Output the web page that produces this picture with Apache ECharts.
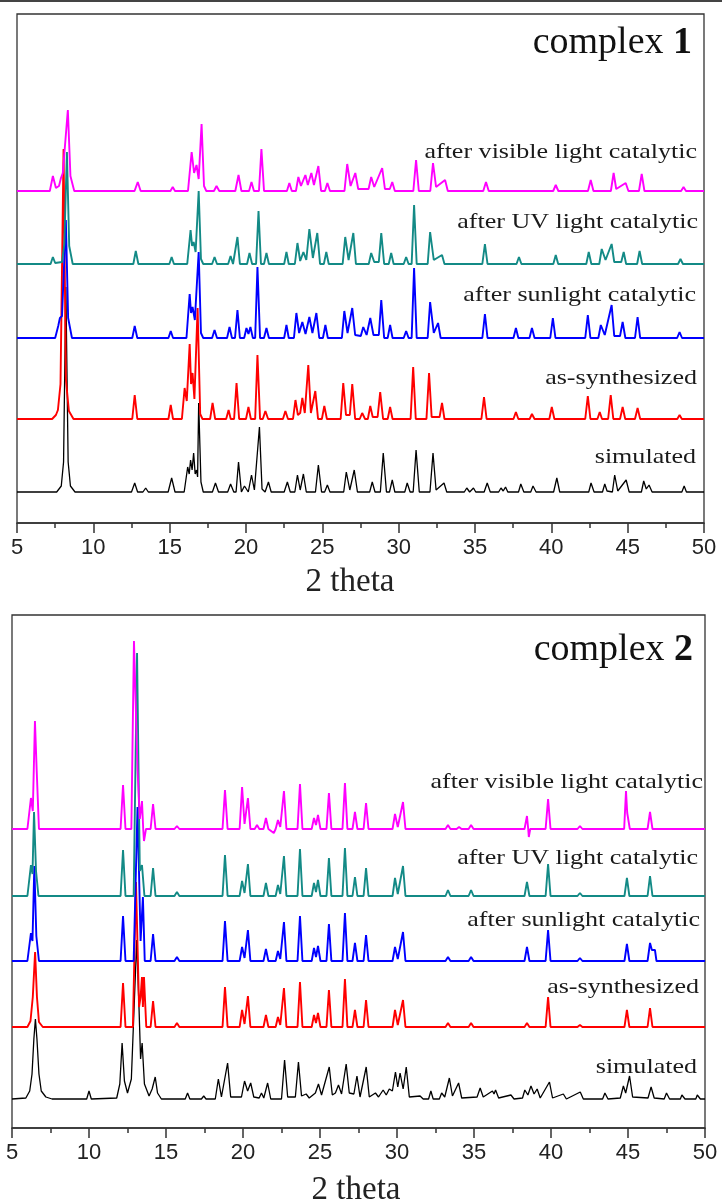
<!DOCTYPE html>
<html><head><meta charset="utf-8">
<script src="https://cdn.jsdelivr.net/npm/echarts@6/dist/echarts.min.js"></script>
<style>html,body{margin:0;padding:0;background:#fff}#c{width:722px;height:1202px}</style>
</head><body><div id="c"></div>
<script>
// ---------- DATA (2 theta, intensity above own baseline, arbitrary units) ----------
const seriesNames = ['simulated','as-synthesized','after sunlight catalytic','after UV light catalytic','after visible light catalytic'];
const panelTitles = ['1','2'];
const xTicks = [5,10,15,20,25,30,35,40,45,50];
// stacking offsets of each pattern (same order as seriesNames)
const offsets1 = [31,104,185,259,332];
const offsets2 = [29,101,167,232,299];

const p1_sim = [[5,0],[7.6,0],[7.9,6],[8.05,30],[8.2,205],[8.35,30],[8.5,6],[8.8,0],[12.5,0],[12.71,9],[12.9,0],[13.25,0],[13.43,4],[13.6,0],[14.9,0],[15.13,14],[15.35,0],[15.95,0],[16.18,25],[16.28,18],[16.37,32],[16.47,22],[16.57,39],[16.67,18],[16.76,22],[16.83,15],[16.9,89],[17.05,10],[17.2,0],[17.8,0],[18.0,9],[18.2,0],[18.8,0],[18.99,8],[19.2,0],[19.35,0],[19.51,30],[19.7,0],[19.9,6],[20.15,0],[20.36,17],[20.55,2],[20.88,65],[21.05,3],[21.25,0],[21.47,10],[21.65,0],[22.5,0],[22.71,10],[22.9,0],[23.2,0],[23.37,17],[23.55,2],[23.76,18],[23.95,0],[24.55,0],[24.74,27],[24.95,0],[25.15,0],[25.33,7],[25.5,0],[26.4,0],[26.57,20],[26.8,2],[27.09,22],[27.3,0],[28.1,0],[28.27,10],[28.45,0],[28.8,0],[28.99,39],[29.2,0],[29.4,0],[29.58,12],[29.75,0],[30.4,0],[30.56,9],[30.75,0],[30.95,0],[31.14,42],[31.35,0],[32.05,0],[32.25,39],[32.45,2],[32.97,9],[33.15,0],[34.3,0],[34.46,4],[34.65,0],[34.9,4],[35.05,0],[35.6,0],[35.8,9],[36.0,0],[36.55,0],[36.7,4],[36.85,1],[37.0,5],[37.15,0],[37.85,0],[38.0,8],[38.2,0],[38.65,0],[38.8,6],[39.0,0],[40.15,0],[40.36,14],[40.55,0],[42.45,0],[42.6,9],[42.8,0],[43.35,0],[43.5,8],[43.65,1],[44.0,0],[44.15,17],[44.35,1],[44.9,12],[45.1,0],[45.9,0],[46.05,11],[46.22,3],[46.4,7],[46.6,0],[48.55,0],[48.7,6],[48.85,0],[50,0]];
const p1_as = [[5,0],[7.3,0],[7.55,4],[7.68,9],[7.85,35],[8.05,270],[8.2,40],[8.4,8],[8.7,0],[12.55,0],[12.71,24],[12.88,0],[14.92,0],[15.07,14],[15.22,0],[15.8,0],[15.98,31],[16.12,18],[16.31,75],[16.4,35],[16.5,46],[16.62,20],[16.83,111],[17.0,5],[17.15,0],[17.65,0],[17.81,16],[17.98,0],[18.7,0],[18.86,9],[19.0,0],[19.22,0],[19.38,36],[19.55,0],[20.0,0],[20.16,12],[20.32,0],[20.6,0],[20.75,64],[20.92,0],[21.1,0],[21.27,8],[21.45,0],[22.42,0],[22.58,8],[22.75,0],[23.08,0],[23.24,19],[23.4,4],[23.55,6],[23.69,21],[23.85,6],[24.08,54],[24.25,6],[24.54,28],[24.72,0],[24.97,0],[25.13,13],[25.3,0],[26.2,0],[26.37,36],[26.55,4],[26.8,4],[26.96,35],[27.15,0],[27.45,0],[27.61,6],[27.8,0],[27.98,0],[28.14,13],[28.3,2],[28.62,2],[28.79,27],[28.98,0],[29.28,0],[29.44,12],[29.6,0],[30.78,0],[30.95,52],[31.12,0],[31.82,0],[31.99,46],[32.16,2],[32.68,2],[32.84,16],[33.0,0],[35.42,0],[35.59,22],[35.76,0],[37.52,0],[37.68,7],[37.84,0],[38.58,0],[38.73,5],[38.9,0],[39.87,0],[40.03,12],[40.2,0],[42.22,0],[42.39,23],[42.56,0],[43.02,0],[43.17,7],[43.32,0],[43.72,0],[43.89,24],[44.06,0],[44.5,0],[44.67,12],[44.84,0],[45.48,0],[45.65,11],[45.82,0],[48.25,0],[48.4,4],[48.55,0],[50,0]];
const p1_sun = [[5,0],[7.5,0],[7.7,12],[7.81,20],[7.95,22],[8.2,118],[8.35,20],[8.6,0],[12.55,0],[12.71,12],[12.88,0],[14.92,0],[15.07,7],[15.22,0],[16.1,0],[16.31,44],[16.4,25],[16.5,31],[16.65,18],[16.9,86],[17.05,5],[17.2,0],[17.78,0],[17.94,8],[18.1,0],[18.76,0],[18.92,11],[19.08,0],[19.28,0],[19.44,28],[19.6,0],[19.88,0],[20.03,10],[20.16,4],[20.29,11],[20.45,0],[20.6,0],[20.75,71],[20.92,0],[21.18,0],[21.34,10],[21.5,0],[22.5,0],[22.65,13],[22.8,0],[23.14,0],[23.3,25],[23.48,5],[23.69,16],[23.9,4],[24.15,21],[24.35,5],[24.61,25],[24.8,0],[25.04,0],[25.2,13],[25.36,0],[26.28,0],[26.44,27],[26.65,5],[26.96,30],[27.15,3],[27.52,2],[27.68,11],[27.9,3],[28.14,20],[28.35,3],[28.7,3],[28.86,38],[29.05,0],[29.28,0],[29.44,13],[29.6,0],[30.33,0],[30.49,7],[30.65,0],[30.85,0],[31.01,70],[31.18,0],[31.9,0],[32.06,36],[32.3,5],[32.58,15],[32.75,0],[35.48,0],[35.65,24],[35.82,0],[37.52,0],[37.68,10],[37.84,0],[38.57,0],[38.73,10],[38.9,0],[39.93,0],[40.1,20],[40.27,0],[42.22,0],[42.39,23],[42.56,0],[43.08,0],[43.24,13],[43.5,3],[43.95,33],[44.12,2],[44.5,2],[44.67,16],[44.85,0],[45.48,0],[45.65,21],[45.82,0],[48.24,0],[48.4,6],[48.56,0],[50,0]];
const p1_uv = [[5,0],[7.2,0],[7.35,7],[7.5,1],[7.95,2],[8.1,20],[8.27,112],[8.42,18],[8.65,0],[12.62,0],[12.78,13],[12.95,0],[14.98,0],[15.13,7],[15.28,0],[16.15,0],[16.37,34],[16.47,18],[16.57,22],[16.7,12],[16.9,73],[17.05,5],[17.2,0],[17.78,0],[17.94,7],[18.1,0],[18.83,0],[18.99,8],[19.15,0],[19.28,0],[19.44,27],[19.6,0],[20.07,0],[20.23,11],[20.4,0],[20.66,0],[20.82,53],[20.98,0],[21.18,0],[21.34,11],[21.5,0],[22.5,0],[22.65,12],[22.8,0],[23.2,0],[23.37,21],[23.55,3],[23.76,12],[23.95,4],[24.15,35],[24.38,6],[24.67,31],[24.85,0],[25.1,0],[25.26,12],[25.42,0],[26.33,0],[26.5,27],[26.72,4],[27.03,31],[27.2,0],[28.04,0],[28.2,11],[28.4,2],[28.7,2],[28.86,31],[29.05,0],[29.35,0],[29.51,11],[29.67,0],[30.33,0],[30.49,7],[30.65,0],[30.85,0],[31.01,59],[31.18,0],[31.9,0],[32.06,32],[32.3,4],[32.84,9],[33.0,0],[35.48,0],[35.65,20],[35.82,0],[37.72,0],[37.88,7],[38.04,0],[40.13,0],[40.29,9],[40.45,0],[42.29,0],[42.45,12],[42.62,0],[43.14,0],[43.3,15],[43.55,4],[43.95,20],[44.12,2],[44.58,2],[44.74,12],[44.9,0],[45.62,0],[45.78,13],[45.95,0],[48.3,0],[48.46,5],[48.62,0],[50,0]];
const p1_vis = [[5,0],[7.15,0],[7.35,15],[7.55,3],[7.75,5],[7.88,13],[8.0,18],[8.33,81],[8.5,15],[8.75,0],[12.7,0],[12.91,9],[13.1,0],[15.05,0],[15.2,4],[15.35,0],[16.2,0],[16.44,39],[16.6,18],[16.76,26],[16.9,12],[17.09,67],[17.25,5],[17.4,0],[17.9,0],[18.07,5],[18.25,0],[19.3,0],[19.51,16],[19.7,0],[20.2,0],[20.36,9],[20.52,0],[20.85,0],[21.01,42],[21.18,0],[22.68,0],[22.84,8],[23.0,0],[23.27,0],[23.43,14],[23.6,5],[23.89,16],[24.05,6],[24.28,18],[24.45,6],[24.74,25],[24.92,0],[25.17,0],[25.33,8],[25.5,0],[26.45,0],[26.63,27],[26.85,5],[27.16,18],[27.35,2],[28.03,2],[28.2,14],[28.4,4],[28.92,23],[29.1,2],[29.42,2],[29.58,9],[29.75,0],[30.96,0],[31.14,31],[31.32,0],[32.07,0],[32.25,28],[32.45,4],[33.04,11],[33.22,0],[35.54,0],[35.72,9],[35.9,0],[40.12,0],[40.29,6],[40.46,0],[42.4,0],[42.58,11],[42.76,0],[43.9,0],[44.08,18],[44.25,2],[44.87,8],[45.05,0],[45.74,0],[45.92,17],[46.1,0],[48.5,0],[48.66,4],[48.82,0],[50,0]];

const p2_sim = [[5,0],[5.9,1],[6.15,8],[6.3,25],[6.42,60],[6.52,80],[6.62,60],[6.75,25],[6.9,8],[7.2,2],[7.6,0],[9.85,0],[10.0,8],[10.15,0],[11.8,1],[12.0,15],[12.15,56],[12.3,18],[12.5,6],[12.75,20],[12.95,100],[13.1,159],[13.25,90],[13.35,40],[13.45,56],[13.6,15],[13.9,3],[14.1,10],[14.3,22],[14.45,6],[14.7,0],[16.25,0],[16.4,6],[16.55,0],[17.3,0],[17.45,3],[17.6,0],[18.2,0],[18.4,20],[18.6,2],[19.0,36],[19.2,2],[19.9,2],[20.1,18],[20.3,8],[20.5,16],[20.7,2],[21.05,1],[21.2,6],[21.35,1],[21.6,16],[21.8,0],[22.5,0],[22.7,39],[22.9,2],[23.4,2],[23.6,37],[23.8,3],[24.1,5],[24.3,1],[24.7,6],[24.9,15],[25.1,4],[25.6,32],[25.8,4],[26.0,6],[26.2,14],[26.4,5],[26.7,35],[26.9,6],[27.2,5],[27.4,23],[27.6,2],[28.0,32],[28.2,2],[28.6,6],[28.8,2],[29.1,9],[29.3,4],[29.5,10],[29.7,8],[29.9,27],[30.05,12],[30.2,26],[30.4,10],[30.6,32],[30.8,2],[31.5,3],[31.7,0],[32.05,0],[32.2,8],[32.35,0],[32.75,0],[32.9,6],[33.1,2],[33.4,21],[33.6,3],[34.0,16],[34.2,1],[35.2,2],[35.4,11],[35.6,2],[36.2,8],[36.3,5],[36.4,9],[36.6,1],[37.4,4],[37.6,0],[38.15,1],[38.3,9],[38.5,4],[38.7,13],[38.9,5],[39.1,10],[39.3,1],[39.9,17],[40.1,1],[40.8,5],[41.0,0],[41.9,7],[42.1,0],[43.35,0],[43.5,6],[43.7,0],[44.5,1],[44.7,13],[44.85,6],[45.1,23],[45.3,2],[46.3,1],[46.5,12],[46.7,1],[47.35,0],[47.5,6],[47.7,0],[48.4,0],[48.5,4],[48.7,0],[49.4,0],[49.5,4],[49.7,0],[50,0]];
const p2_as = [[5,0],[6.0,0],[6.2,6],[6.35,30],[6.5,75],[6.62,30],[6.75,5],[7.0,0],[12.05,0],[12.21,44],[12.37,0],[12.85,0],[13.05,145],[13.25,20],[13.35,30],[13.44,50],[13.5,20],[13.57,50],[13.72,0],[14.0,0],[14.16,26],[14.32,0],[15.55,0],[15.71,4],[15.87,0],[18.67,0],[18.83,40],[19.0,0],[19.78,0],[19.94,17],[20.1,3],[20.32,31],[20.48,0],[21.33,0],[21.49,12],[21.65,0],[22.12,0],[22.27,10],[22.42,2],[22.66,39],[22.82,0],[23.54,0],[23.7,45],[23.86,0],[24.46,0],[24.61,12],[24.74,4],[24.87,14],[25.03,0],[25.42,0],[25.58,37],[25.74,0],[26.46,0],[26.62,48],[26.78,0],[27.11,0],[27.27,17],[27.43,0],[27.83,0],[27.99,27],[28.15,0],[29.71,0],[29.87,17],[30.05,2],[30.39,27],[30.55,0],[33.15,0],[33.31,4],[33.47,0],[34.65,0],[34.81,4],[34.97,0],[38.28,0],[38.44,4],[38.6,0],[39.65,0],[39.81,30],[39.97,0],[41.72,0],[41.88,2],[42.04,0],[44.77,0],[44.93,17],[45.09,0],[46.27,0],[46.43,19],[46.59,0],[50,0]];
const p2_sun = [[5,0],[6.0,0],[6.23,28],[6.33,20],[6.45,95],[6.58,25],[6.75,0],[12.05,0],[12.21,45],[12.37,0],[12.9,0],[13.15,154],[13.35,20],[13.5,64],[13.62,0],[14.0,0],[14.16,27],[14.32,0],[15.55,0],[15.71,4],[15.87,0],[18.67,0],[18.83,40],[19.0,0],[19.78,0],[19.94,14],[20.1,3],[20.32,31],[20.48,0],[21.33,0],[21.49,12],[21.65,0],[22.12,0],[22.27,10],[22.42,2],[22.66,39],[22.82,0],[23.54,0],[23.7,45],[23.86,0],[24.46,0],[24.61,13],[24.74,4],[24.87,15],[25.03,0],[25.42,0],[25.58,37],[25.74,0],[26.46,0],[26.62,48],[26.78,0],[27.11,0],[27.27,18],[27.43,0],[27.83,0],[27.99,26],[28.15,0],[29.71,0],[29.87,14],[30.05,2],[30.39,29],[30.55,0],[33.15,0],[33.31,4],[33.47,0],[34.65,0],[34.81,4],[34.97,0],[38.28,0],[38.44,14],[38.6,0],[39.65,0],[39.81,31],[39.97,0],[41.72,0],[41.88,3],[42.04,0],[44.77,0],[44.93,17],[45.09,0],[46.27,0],[46.43,18],[46.55,11],[46.75,11],[46.85,0],[50,0]];
const p2_uv = [[5,0],[6.0,0],[6.23,31],[6.33,22],[6.43,84],[6.56,25],[6.72,0],[12.05,0],[12.21,46],[12.37,0],[12.9,0],[13.12,243],[13.3,25],[13.44,31],[13.6,0],[14.0,0],[14.16,28],[14.32,0],[15.55,0],[15.71,4],[15.87,0],[18.67,0],[18.83,41],[19.0,0],[19.78,0],[19.94,15],[20.1,3],[20.32,32],[20.48,0],[21.33,0],[21.49,13],[21.65,0],[22.12,0],[22.27,11],[22.42,2],[22.66,40],[22.82,0],[23.54,0],[23.7,47],[23.86,0],[24.46,0],[24.61,13],[24.74,4],[24.87,16],[25.03,0],[25.42,0],[25.58,38],[25.74,0],[26.46,0],[26.62,48],[26.78,0],[27.11,0],[27.27,19],[27.43,0],[27.83,0],[27.99,28],[28.15,0],[29.71,0],[29.87,18],[30.05,2],[30.39,30],[30.55,0],[33.15,0],[33.31,6],[33.47,0],[34.65,0],[34.81,6],[34.97,0],[38.28,0],[38.44,14],[38.6,0],[39.65,0],[39.81,32],[39.97,0],[41.72,0],[41.88,3],[42.04,0],[44.77,0],[44.93,18],[45.09,0],[46.27,0],[46.43,20],[46.59,0],[50,0]];
const p2_vis = [[5,0],[6.0,0],[6.23,31],[6.35,18],[6.49,108],[6.6,60],[6.75,0],[12.05,0],[12.21,44],[12.37,0],[12.75,0],[12.92,188],[13.15,60],[13.3,10],[13.44,28],[13.52,0],[13.57,-12],[13.7,0],[14.0,0],[14.16,25],[14.32,0],[15.55,0],[15.71,3],[15.87,0],[18.67,0],[18.83,39],[19.0,0],[19.78,0],[19.94,42],[20.1,5],[20.32,31],[20.48,0],[20.76,0],[20.91,4],[21.06,0],[21.33,0],[21.49,11],[21.65,0],[22.0,-4],[22.12,0],[22.27,9],[22.42,2],[22.66,38],[22.82,0],[23.54,0],[23.7,45],[23.86,0],[24.46,0],[24.61,11],[24.74,4],[24.87,14],[25.03,0],[25.42,0],[25.58,36],[25.74,0],[26.46,0],[26.62,46],[26.78,0],[27.11,0],[27.27,17],[27.43,0],[27.83,0],[27.99,26],[28.15,0],[29.71,0],[29.87,15],[30.05,2],[30.39,27],[30.55,0],[33.15,0],[33.31,4],[33.47,0],[33.87,0],[34.03,2],[34.19,0],[34.65,0],[34.81,4],[34.97,0],[38.28,0],[38.44,13],[38.52,0],[38.56,-8],[38.65,0],[39.65,0],[39.81,30],[39.97,0],[41.72,0],[41.88,3],[42.04,0],[44.75,0],[44.87,38],[44.95,16],[45.0,16],[45.12,0],[46.27,0],[46.43,17],[46.59,0],[50,0]];

const panel1 = [p1_sim, p1_as, p1_sun, p1_uv, p1_vis];
const panel2 = [p2_sim, p2_as, p2_sun, p2_uv, p2_vis];

// ---------- STYLE / LAYOUT ----------
const colors = ['#000000','#ff0000','#0000ff','#138a86','#ff00ff'];
const widths = [1.3,1.9,1.9,1.9,1.9];
const grids = [
  {left:17, top:14, width:687, height:509, yMax:509},
  {left:12, top:615, width:693, height:513, yMax:513}
];
const labelPos = [
  [[696,457],[697,378],[696,295],[698,222],[697,152]],
  [[697,1067],[699,987],[700,920],[698,858],[703,782]]
];
const titlePos = [[692,43],[693,650]];
const axisNamePos = [[350,582],[356,1190]];

const chart = echarts.init(document.getElementById('c'), null, {renderer:'canvas'});
const option = {
  animation:false,
  backgroundColor:'#fff',
  grid: grids.map(g => ({left:g.left, top:g.top, width:g.width, height:g.height, show:true, borderColor:'#333', borderWidth:1.3, containLabel:false})),
  xAxis: grids.map((g,i) => ({
    type:'value', gridIndex:i, min:5, max:50, interval:5,
    axisLine:{show:true, onZero:false, lineStyle:{color:'#333', width:1.5}},
    axisTick:{show:true, inside:false, length:10, lineStyle:{color:'#333', width:1.5}},
    minorTick:{show:true, splitNumber:2, length:5, lineStyle:{color:'#333', width:1.5}},
    splitLine:{show:false},
    axisLabel:{show:true, margin:14, fontSize:22, color:'#222', fontFamily:'Liberation Sans, Arial, sans-serif',
      formatter: v => xTicks.includes(v) ? String(v) : ''}
  })),
  yAxis: grids.map((g,i) => ({type:'value', gridIndex:i, min:0, max:g.yMax, show:false})),
  series: [],
  graphic: []
};
[panel1, panel2].forEach((panel, pi) => {
  const offs = pi === 0 ? offsets1 : offsets2;
  panel.forEach((pts, si) => {
    option.series.push({
      type:'line', name: seriesNames[si] + ' ' + panelTitles[pi],
      xAxisIndex:pi, yAxisIndex:pi, showSymbol:false, symbol:'none', clip:true,
      lineStyle:{color:colors[si], width:widths[si]},
      z: 2 + si,
      data: pts.map(p => [p[0], p[1] + offs[si]])
    });
    const lp = labelPos[pi][si];
    option.graphic.push({type:'text', x:lp[0], y:lp[1], scaleX:1.24, originX:0, originY:0, z:20,
      style:{text:seriesNames[si], fill:'#1a1a1a', font:'21px "Liberation Serif", "Times New Roman", serif', textAlign:'right', textVerticalAlign:'middle'}});
  });
  const tp = titlePos[pi];
  option.graphic.push({type:'text', x:tp[0], y:tp[1], z:20,
    style:{text:'{n|complex }{b|' + panelTitles[pi] + '}', textAlign:'right', textVerticalAlign:'middle',
      rich:{n:{fontFamily:'Liberation Serif', fontSize:38, fill:'#111'}, b:{fontFamily:'Liberation Serif', fontSize:38, fontWeight:'bold', fill:'#111'}}}});
  const ap = axisNamePos[pi];
  option.graphic.push({type:'text', x:ap[0], y:ap[1], z:20,
    style:{text:'2 theta', fill:'#222', font:'33px "Liberation Serif", "Times New Roman", serif', textAlign:'center', textVerticalAlign:'middle'}});
});
option.graphic.push({type:'rect', shape:{x:0, y:0, width:722, height:2}, style:{fill:'#444'}, z:20});
chart.setOption(option);
</script></body></html>
